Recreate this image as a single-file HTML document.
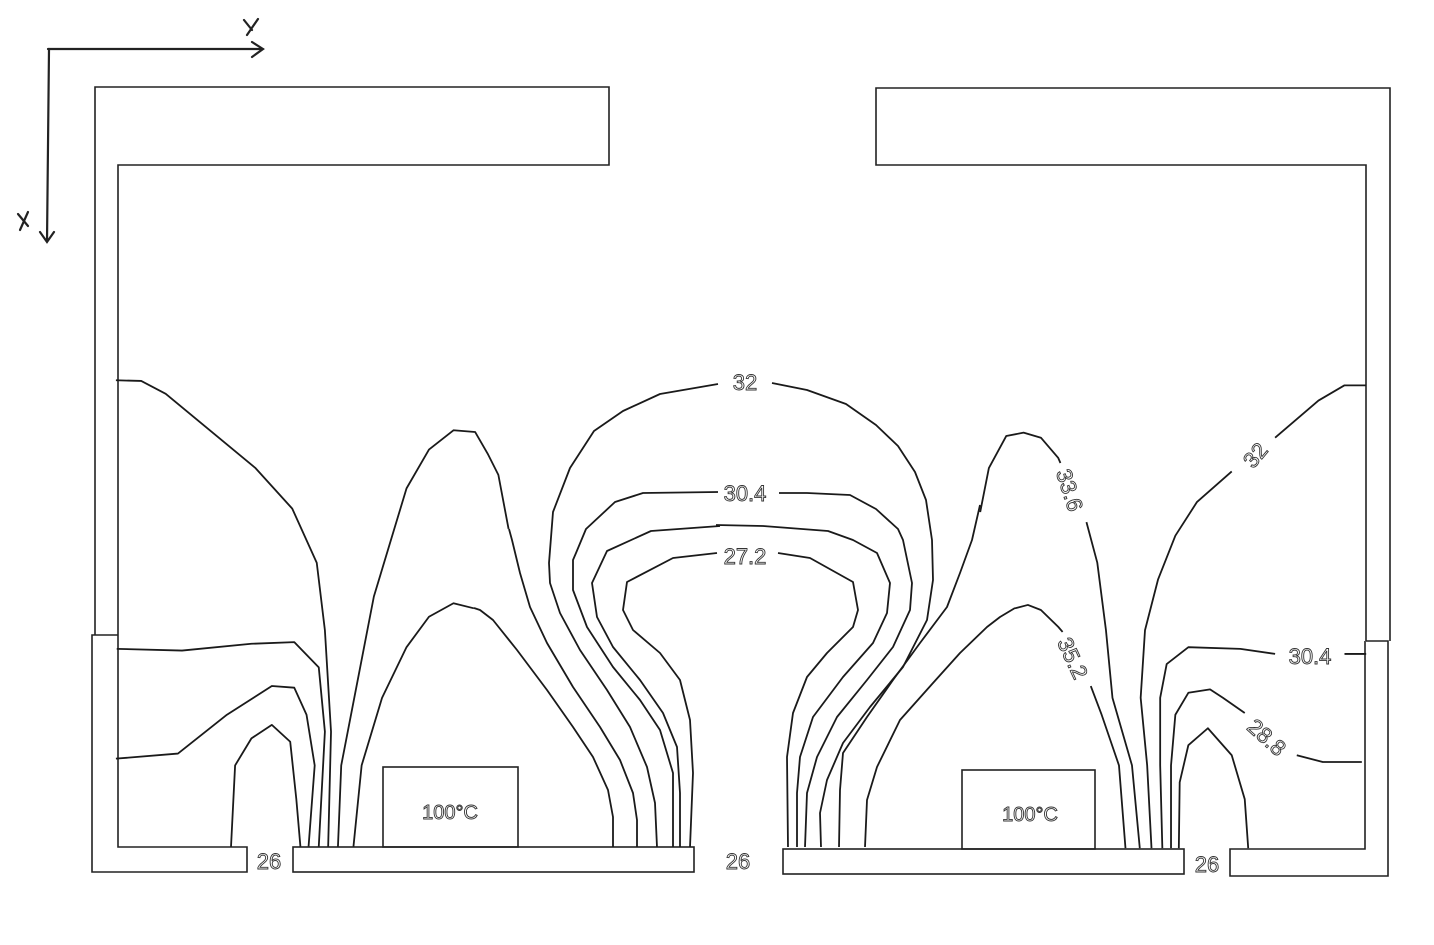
<!DOCTYPE html>
<html><head><meta charset="utf-8"><style>
html,body{margin:0;padding:0;background:#fff;}
svg{display:block;}
.w{fill:none;stroke:#222;stroke-width:1.6;}
.c{fill:none;stroke:#1a1a1a;stroke-width:1.8;vector-effect:non-scaling-stroke;stroke-linejoin:round;}
.t{font-family:"Liberation Sans",sans-serif;font-size:22px;fill:#fff;stroke:#333;stroke-width:0.9;}
</style></head><body>
<svg width="1434" height="945" viewBox="0 0 1434 945" xmlns="http://www.w3.org/2000/svg">
<g fill="none" stroke="#222" stroke-width="2.2" stroke-linecap="round">
<path d="M48,49 L263,49 M252,42 L263,49 L252,57"/>
<path d="M49,49 L47,242 M40,232 L47,242 L54,232"/>
<path d="M244,20 L252,30 M258,19 L247,35"/>
<path d="M18,214 L28,226 M28,212 L20,230"/>
</g>
<g class="w">
<path d="M95,635 L95,87 L609,87 L609,165 L118,165 L118,847 L247,847 L247,872 L92,872 L92,635 L118,635"/>
<rect x="293" y="847" width="401" height="25"/>
<rect x="783" y="849" width="401" height="25"/>
<path d="M1366,641 L1366,165 L876,165 L876,88 L1390,88 L1390,641 M1366,641 L1388,641 L1388,876 L1230,876 L1230,849 L1365,849 L1365,641"/>
<rect x="383" y="767" width="135" height="80"/>
<rect x="962" y="770" width="133" height="79"/>
</g>
<!-- left contours (zoom1 coords) -->
<g transform="translate(80,360) scale(0.40816,0.33784)">
<path class="c" d="M88,60 L150,62 L210,100 L310,200 L430,320 L520,440 L580,600 L600,800 L615,1100 L608,1440"/>
<path class="c" d="M632,1440 L640,1200 L680,950 L720,700 L770,500 L800,380 L855,265 L915,208 L968,213 L1000,280 L1025,340 L1050,500"/>
<path class="c" d="M670,1440 L690,1200 L740,1000 L800,850 L855,760 L915,720 L965,735"/>
<path class="c" d="M370,1440 L380,1200 L420,1120 L470,1080 L515,1130 L530,1300 L540,1440"/>
<path class="c" d="M88,1180 L240,1165 L360,1050 L470,965 L525,970 L555,1050 L575,1200 L560,1440"/>
<path class="c" d="M90,855 L250,860 L420,840 L525,835 L585,910 L600,1100 L585,1440"/>
</g>
<!-- left middle (main coords) -->
<g>
<path class="c" d="M474,608 L480,610 L493,620 L517,650 L547,690 L573,727 L593,757 L608,790 L613,817 L613,847"/>
<path class="c" d="M509,529 L512,540 L520,573 L530,607 L547,643 L573,687 L600,727 L620,760 L633,793 L637,820 L637,847"/>
<path class="c" d="M718,384 L660,394 L623,411 L594,431 L570,468 L553,512 L549,563 L550,583 L560,613 L580,650 L607,690 L630,727 L647,767 L655,803 L657,847"/>
<path class="c" d="M718,492 L643,493 L615,502 L586,529 L576,553 L573,560 L573,590 L587,627 L613,667 L640,700 L660,730 L673,773 L673,847"/>
<path class="c" d="M720,526 L651,531 L607,551 L592,583 L597,617 L613,647 L640,680 L663,713 L677,747 L680,793 L680,847"/>
<path class="c" d="M717,553 L673,558 L627,582 L623,610 L633,630 L660,653 L680,680 L690,720 L693,773 L690,847"/>
</g>
<!-- right middle (main coords) -->
<g>
<path class="c" d="M778,553 L810,558 L853,582 L858,610 L853,627 L827,653 L807,677 L793,713 L787,757 L788,847"/>
<path class="c" d="M716,525 L763,526 L828,531 L853,540 L877,553 L890,583 L887,613 L873,643 L843,677 L813,717 L800,757 L797,793 L797,847"/>
<path class="c" d="M779,493 L807,493 L850,495 L876,509 L898,529 L903,540 L912,583 L910,610 L893,647 L867,680 L837,717 L817,757 L807,793 L805,847"/>
<path class="c" d="M772,383 L807,390 L846,404 L876,425 L898,446 L915,472 L926,500 L932,540 L933,580 L927,620 L903,667 L870,707 L843,743 L827,780 L820,813 L821,847"/>
<path class="c" d="M980,505 L972,540 L960,573 L947,607 L920,643 L893,680 L867,717 L843,753 L840,790 L839,847"/>
<path class="c" d="M1015,608 L1000,617 L987,627 L960,653 L933,683 L900,720 L877,767 L867,800 L865,847"/>
</g>
<!-- right contours (zoom2 coords) -->
<g transform="translate(720,360) scale(0.43367,0.33784)">
<path class="c" d="M600,450 L620,320 L660,225 L700,215 L740,230 L780,290 L785,305"/>
<path class="c" d="M845,480 L870,600 L890,800 L905,1000 L950,1200 L968,1445"/>
<path class="c" d="M680,735 L710,725 L740,740 L780,790 L790,805"/>
<path class="c" d="M855,965 L880,1050 L920,1200 L935,1445"/>
<path class="c" d="M1490,75 L1440,75 L1380,120 L1280,230"/>
<path class="c" d="M1180,330 L1100,420 L1050,520 L1010,650 L980,800 L970,1000 L985,1200 L995,1445"/>
<path class="c" d="M1490,870 L1440,870"/>
<path class="c" d="M1280,870 L1200,855 L1080,850 L1030,900 L1015,1000 L1015,1200 L1020,1445"/>
<path class="c" d="M1480,1190 L1390,1190 L1330,1170"/>
<path class="c" d="M1210,1045 L1160,1000 L1130,975 L1080,985 L1050,1050 L1040,1200 L1040,1445"/>
<path class="c" d="M1058,1445 L1060,1250 L1080,1140 L1125,1090 L1180,1170 L1210,1300 L1218,1445"/>
</g>
<g class="t">
<text x="745" y="390" text-anchor="middle">32</text>
<text x="745" y="501" text-anchor="middle">30.4</text>
<text x="745" y="564" text-anchor="middle">27.2</text>
<text transform="translate(1070,490) rotate(72)" text-anchor="middle" y="8">33.6</text>
<text transform="translate(1073,658) rotate(65)" text-anchor="middle" y="8">35.2</text>
<text transform="translate(1255,455) rotate(-50)" text-anchor="middle" y="8">32</text>
<text x="1310" y="664" text-anchor="middle">30.4</text>
<text transform="translate(1267,737) rotate(42)" text-anchor="middle" y="8">28.8</text>
<text x="269" y="869" text-anchor="middle">26</text>
<text x="738" y="869" text-anchor="middle">26</text>
<text x="1207" y="872" text-anchor="middle">26</text>
<text x="450" y="819" text-anchor="middle" font-size="20">100°C</text>
<text x="1030" y="821" text-anchor="middle" font-size="20">100°C</text>
</g>
</svg>
</body></html>
